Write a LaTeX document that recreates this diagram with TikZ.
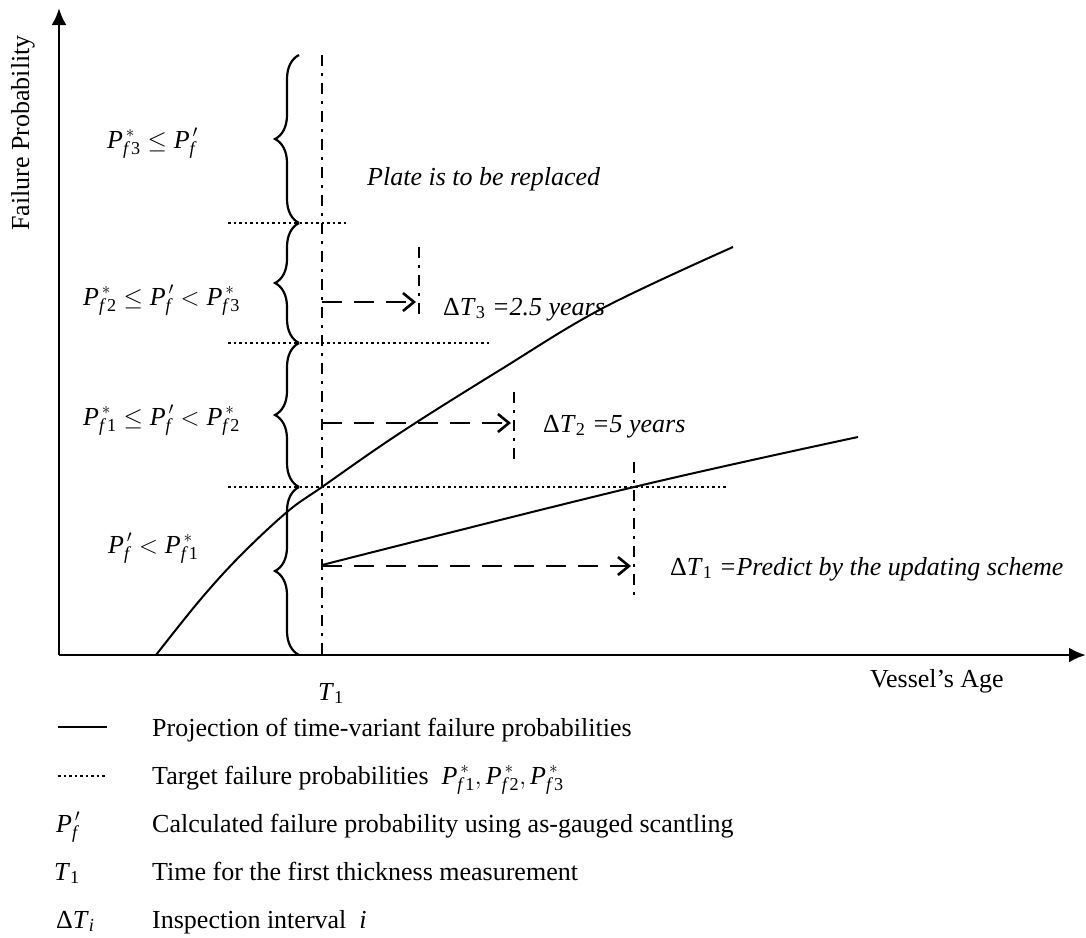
\documentclass[tikz,border=0pt]{standalone}
\usepackage{amsmath, amssymb}
\usepackage{fontspec}
\setmainfont{Liberation Serif}
\usepackage{tikz}
\usetikzlibrary{arrows.meta, decorations.pathreplacing, positioning}

% target and calculated failure probabilities, set in the text italic
\newcommand{\pstar}[1]{\textit{P}^{\,*}_{\textit{f}\,\text{#1}}}
\newcommand{\pcalc}{\textit{P}^{\,\prime}_{\textit{f}}}
\newcommand{\tsub}[1]{\textit{T}\ensuremath{_{\text{#1}}}}

\begin{document}
\begin{tikzpicture}[
    x=1pt, y=-1pt,
    axis_line/.style={draw=black, line width=2.8pt, -{Latex[length=17pt, width=15pt]}},
    proj_curve/.style={draw=black, line width=2pt},
    target_line/.style={draw=black, line width=2.2pt, dash pattern=on 2.5pt off 3pt},
    time_line/.style={draw=black, line width=2.5pt, dash pattern=on 11pt off 7pt on 3pt off 7pt},
    interval_arrow/.style={draw=black, line width=2.6pt, dash pattern=on 20pt off 12pt, -{Straight Barb[length=11pt, width=18pt]}},
    band_brace/.style={draw=black, line width=2.2pt, decorate, decoration={brace, amplitude=24pt}},
    % Text styles
    txt_node/.style={font=\fontsize{26}{31}\selectfont, inner sep=0pt},
    it_node/.style={font=\fontsize{26}{31}\selectfont\itshape, inner sep=0pt}
]
    \useasboundingbox (0,0) rectangle (1086,937);

    % =========================================================================
    % AXES
    % =========================================================================
    \coordinate (origin) at (59,655);
    \coordinate (ytip) at (59,8);
    \coordinate (xtip) at (1086,655);
    \draw [axis_line] (origin) -- (ytip);
    \draw [axis_line] (origin) -- (xtip);

    \node [txt_node, rotate=90] (ylab) at (23,133) {Failure Probability};
    \node [txt_node, anchor=base west] (xlab) at (870,687) {Vessel's Age};

    % =========================================================================
    % TARGET LEVELS, T1 AND BRACES
    % =========================================================================
    \coordinate (t1top) at (322,55);
    \coordinate (t1bot) at (322,655);
    \draw [time_line] (t1top) -- (t1bot);
    \node [txt_node, anchor=base] (t1lab) at (331,700) {\tsub{1}};

    \coordinate (lvl1w) at (228,487); \coordinate (lvl1e) at (728,487);
    \coordinate (lvl2w) at (228,343); \coordinate (lvl2e) at (490,343);
    \coordinate (lvl3w) at (228,223); \coordinate (lvl3e) at (347,223);
    \draw [target_line] (lvl1w) -- (lvl1e);
    \draw [target_line] (lvl2w) -- (lvl2e);
    \draw [target_line] (lvl3w) -- (lvl3e);

    \coordinate (br0) at (299,655);
    \coordinate (br1) at (299,487);
    \coordinate (br2) at (299,343);
    \coordinate (br3) at (299,223);
    \coordinate (br4) at (299,55);
    \draw [band_brace] (br0) -- (br1);
    \draw [band_brace] (br1) -- (br2);
    \draw [band_brace] (br2) -- (br3);
    \draw [band_brace] (br3) -- (br4);

    \node [txt_node, anchor=base west] (band4) at (107,148) {$\pstar{3}\leq \pcalc$};
    \node [txt_node, anchor=base west] (band3) at (83,305) {$\pstar{2}\leq \pcalc<\pstar{3}$};
    \node [txt_node, anchor=base west] (band2) at (83,425) {$\pstar{1}\leq \pcalc<\pstar{2}$};
    \node [txt_node, anchor=base west] (band1) at (108,553) {$\pcalc<\pstar{1}$};

    % =========================================================================
    % FAILURE PROBABILITY CURVES
    % =========================================================================
    \draw [proj_curve] plot [smooth, tension=0.6] coordinates {(156,655) (200,600) (240,556) (287,512) (322,487) (400,433) (500,370) (603,308) (733,247)};
    \draw [proj_curve] plot [smooth, tension=0.6] coordinates {(322,565) (634,487) (858,437)};

    % =========================================================================
    % INSPECTION INTERVALS
    % =========================================================================
    \coordinate (int3s) at (322,302); \coordinate (int3e) at (416,302);
    \coordinate (int2s) at (322,423); \coordinate (int2e) at (511,423);
    \coordinate (int1s) at (322,566); \coordinate (int1e) at (631,566);
    \draw [interval_arrow] (int3s) -- (int3e);
    \draw [interval_arrow] (int2s) -- (int2e);
    \draw [interval_arrow] (int1s) -- (int1e);

    \draw [time_line] (419,247) -- (419,317);
    \draw [time_line] (514,392) -- (514,460);
    \draw [time_line] (634,462) -- (634,602);

    \node [it_node, anchor=base west] (plate) at (367,185) {Plate is to be replaced};
    \node [txt_node, anchor=base west] (dt3) at (443,315) {Δ\tsub{3} \textit{=2.5 years}};
    \node [txt_node, anchor=base west] (dt2) at (543,432) {Δ\tsub{2} \textit{=5 years}};
    \node [txt_node, anchor=base west] (dt1) at (670,575) {Δ\tsub{1} \textit{=Predict by the updating scheme}};

    % =========================================================================
    % LEGEND
    % =========================================================================
    \draw [proj_curve] (58,727) -- (107,727);
    \draw [target_line] (58,776) -- (107,776);
    \node [txt_node, anchor=base west] (sym3) at (56,832) {$\pcalc$};
    \node [txt_node, anchor=base west] (sym4) at (54,880) {\tsub{1}};
    \node [txt_node, anchor=base west] (sym5) at (56,928) {Δ\textit{T}$_{\textit{i}}$};

    \node [txt_node, anchor=base west] (leg1) at (152,736) {Projection of time-variant failure probabilities};
    \node [txt_node, anchor=base west] (leg2) at (152,784) {Target failure probabilities \ $\pstar{1}, \pstar{2}, \pstar{3}$};
    \node [txt_node, anchor=base west] (leg3) at (152,832) {Calculated failure probability using as-gauged scantling};
    \node [txt_node, anchor=base west] (leg4) at (152,880) {Time for the first thickness measurement};
    \node [txt_node, anchor=base west] (leg5) at (152,928) {Inspection interval \ \textit{i}};
\end{tikzpicture}
\end{document}
